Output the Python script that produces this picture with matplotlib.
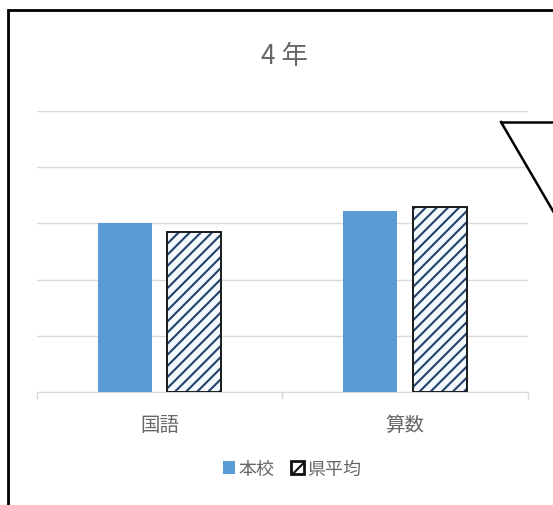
import matplotlib
matplotlib.use('Agg')
import matplotlib.pyplot as plt
import numpy as np
from matplotlib.patches import Rectangle
from matplotlib.lines import Line2D

plt.rcParams['font.family'] = ['Noto Sans CJK JP', 'DejaVu Sans']
plt.rcParams['hatch.linewidth'] = 1.5

# データ
categories = ['国語', '算数']
school = [60, 64.5]        # 本校
prefecture = [56.8, 65.7]  # 県平均
series_names = ['本校', '県平均']

BLUE = '#5B9BD5'
HATCH = '#23416B'

W, H = 553, 506
fig = plt.figure(figsize=(W / 100, H / 100), dpi=100)

# 外枠
fig.patches.append(Rectangle((8 / W, -0.1), 1.2, 1.1 - 11 / H,
                             transform=fig.transFigure, fill=False,
                             edgecolor='black', linewidth=2, zorder=0))

ax = fig.add_axes([36.75 / W, 1 - 393 / H, 491 / W, 281 / H])
x = np.arange(len(categories))
bw = 0.22
off = 0.1415

ax.bar(x - off, school, bw, color=BLUE, zorder=3)
# 斜線（色は edgecolor から取られるので枠線は別に描く）
ax.bar(x + off, prefecture, bw, facecolor='#F4F9FD', edgecolor=HATCH,
       hatch='///', linewidth=0, zorder=3)
ax.bar(x + off, prefecture, bw, fill=False, edgecolor='#1a1a1a',
       linewidth=1.4, zorder=4)

ax.set_xlim(-0.5, 1.5)
ax.set_ylim(0, 100)
ax.set_yticks(np.arange(0, 101, 20))
ax.yaxis.grid(True, color='#D9D9D9', linewidth=1)
ax.set_yticklabels([])
ax.tick_params(axis='y', length=0)
ax.set_xticks(x)
ax.set_xticklabels(categories, fontsize=14, color='#666666')
ax.tick_params(axis='x', which='major', length=0, pad=16)
# 区切りの小さな目盛り
ax.set_xticks([-0.5, 0.5, 1.5], minor=True)
ax.tick_params(axis='x', which='minor', length=5, color='#D9D9D9', width=1)
for s in ['top', 'right', 'left']:
    ax.spines[s].set_visible(False)
ax.spines['bottom'].set_color('#D9D9D9')
ax.set_axisbelow(True)

fig.text(284 / W, 1 - 57 / H, '4 年', ha='center', va='center',
         fontsize=19, color='#666666')

handles = [Rectangle((0, 0), 1, 1, facecolor=BLUE, edgecolor='none'),
           Rectangle((0, 0), 1, 1, facecolor='white', edgecolor='#111111',
                     hatch='//', linewidth=2)]
fig.legend(handles, series_names, loc='center', bbox_to_anchor=(292 / W, 1 - 470 / H),
           ncol=2, frameon=False, fontsize=13, handlelength=0.7, handleheight=0.7,
           handletextpad=0.2, columnspacing=0.9, labelcolor='#666666')

# 吹き出し
fig.add_artist(Line2D([501 / W, 1.02], [1 - 123 / H, 1 - 123 / H],
                      transform=fig.transFigure, color='black', linewidth=1.8))
fig.add_artist(Line2D([501 / W, 560 / W], [1 - 123 / H, 1 - 224 / H],
                      transform=fig.transFigure, color='black', linewidth=1.8))

fig.savefig('out.png', dpi=100, facecolor='white')
